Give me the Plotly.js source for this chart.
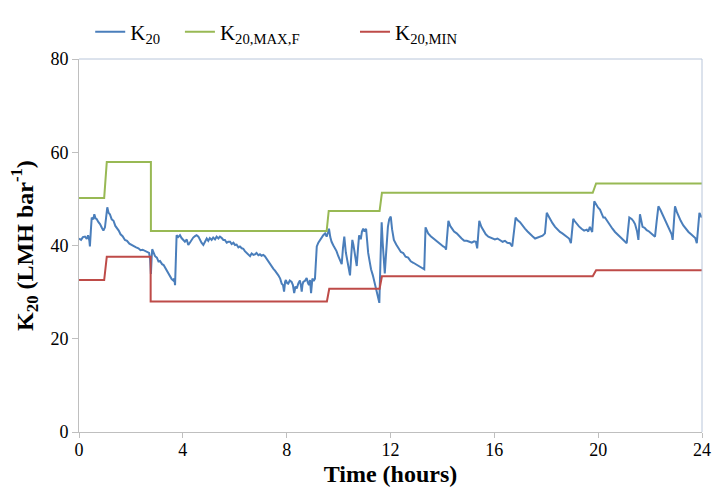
<!DOCTYPE html>
<html>
<head>
<meta charset="utf-8">
<script src="https://cdn.plot.ly/plotly-3.0.1.min.js"></script>
<style>html,body{margin:0;padding:0;background:#fff;}#chart{width:714px;height:497px;}</style>
</head>
<body>
<div id="chart"></div>
<script>
// Measured K20 (hours, LMH bar^-1)
var k20Hours = [
  0.00,0.08,0.15,0.23,0.30,0.35,0.40,0.42,0.46,0.49,0.55,0.59,0.64,0.68,0.75,0.81,0.88,0.94,1.00,
  1.05,1.09,1.14,1.19,1.26,1.33,1.40,1.46,1.53,1.60,1.68,1.77,1.85,1.94,2.03,2.11,2.20,2.29,2.37,2.45,2.54,2.62,2.70,
  2.74,2.77,2.80,2.82,2.87,2.93,3.00,3.06,3.12,3.20,3.26,3.31,3.38,3.44,3.50,3.57,3.63,3.67,3.70,3.73,3.76,
  3.82,3.89,3.95,4.02,4.08,4.15,4.21,4.27,4.34,4.40,4.47,4.53,4.60,4.66,4.72,4.79,4.85,4.92,4.98,5.04,5.11,5.17,5.24,5.30,5.37,5.43,5.50,5.56,5.62,5.69,5.75,5.82,5.88,5.95,6.01,6.07,6.14,6.20,6.27,6.33,6.39,6.46,6.52,6.59,6.65,6.72,6.78,6.84,6.91,6.97,7.03,7.10,7.16,7.23,7.29,7.36,7.42,7.49,7.55,7.62,7.68,7.75,7.81,7.86,7.90,7.94,
  7.97,8.02,8.06,8.12,8.19,8.24,8.29,8.34,8.39,8.45,8.51,8.55,8.58,8.61,8.64,8.70,8.77,8.82,8.86,8.90,8.94,8.99,9.04,9.09,
  9.12,9.16,9.22,9.28,9.35,9.41,9.48,9.54,9.59,9.63,9.68,9.73,9.80,9.86,9.92,9.99,10.06,10.12,10.17,10.22,10.28,10.35,10.40,10.44,10.49,10.53,10.57,10.61,10.66,10.70,10.75,10.79,10.83,10.86,10.90,10.95,11.00,11.06,11.10,11.14,11.20,11.25,11.32,11.38,11.45,11.51,11.57,
  11.62,11.66,11.70,11.74,11.78,11.82,11.86,11.90,11.95,12.01,12.06,12.13,12.22,12.30,12.40,12.49,12.58,12.68,12.78,12.88,12.97,13.07,13.16,13.26,13.30,
  13.35,13.40,13.45,13.55,13.65,13.75,13.84,13.94,14.03,14.10,14.14,14.23,14.30,14.36,14.45,14.55,14.65,14.74,14.84,14.94,15.04,15.13,15.22,15.29,15.34,15.42,15.50,15.57,15.67,15.77,15.90,16.02,16.12,16.22,16.32,16.41,16.50,16.60,16.65,16.69,
  16.82,16.90,16.99,17.08,17.18,17.28,17.37,17.47,17.57,17.66,17.76,17.86,17.95,18.02,18.08,18.14,18.24,18.34,18.44,18.53,18.62,18.72,18.80,18.88,18.95,19.04,19.10,19.17,19.26,19.36,19.46,19.56,19.62,19.68,19.74,19.77,
  19.85,19.92,20.00,20.07,20.13,20.20,20.26,20.35,20.45,20.55,20.65,20.75,20.84,20.90,20.97,21.04,21.10,21.20,21.29,21.36,21.42,21.50,21.55,21.61,21.71,21.79,21.87,21.96,22.06,22.13,22.19,22.25,22.32,22.40,22.45,22.51,22.57,22.67,22.77,22.83,22.87,22.96,23.03,23.09,23.18,23.28,23.38,23.48,23.58,23.67,23.74,23.80,23.90,23.99
];
var k20Values = [
  41.5,41.2,41.8,41.9,41.4,42.2,41.0,39.8,43.5,46.0,45.6,46.7,45.8,45.7,45.0,44.6,43.8,43.2,43.9,
  46.5,48.2,47.0,46.7,45.6,45.3,44.2,43.8,43.2,42.4,42.0,41.2,41.0,40.4,40.1,39.8,39.6,39.4,39.0,39.1,38.8,38.6,38.4,
  37.0,33.9,37.5,39.2,38.5,37.7,37.4,36.6,36.7,36.0,35.8,35.3,34.6,34.2,33.6,32.8,32.5,32.9,31.5,37.0,42.2,
  41.8,42.2,41.6,41.2,40.8,41.3,40.1,40.6,41.2,41.7,42.0,42.2,41.9,41.2,40.6,40.1,40.9,41.5,41.0,41.6,41.2,41.7,41.3,41.9,41.5,41.9,41.6,41.2,41.2,40.6,40.8,40.8,40.3,40.6,40.1,40.2,39.6,39.8,39.4,39.3,38.8,38.4,38.2,37.7,38.3,38.0,38.1,38.4,37.9,38.1,37.8,38.0,37.7,37.1,36.6,36.0,35.4,35.0,34.6,34.1,33.6,32.9,31.8,31.5,30.1,32.2,
  32.6,31.9,31.8,32.5,32.2,31.5,29.8,31.2,30.8,31.9,32.5,31.4,30.1,31.6,32.2,32.4,33.0,32.0,31.5,32.6,29.8,32.9,32.4,32.9,
  36.0,39.8,40.6,41.2,41.8,42.2,42.6,41.9,42.8,43.6,41.8,40.8,40.0,39.4,38.8,37.7,36.8,36.0,39.5,41.9,38.5,36.3,35.0,33.6,38.0,41.2,40.2,38.4,36.8,35.6,39.5,42.2,41.5,41.5,43.0,43.6,43.0,43.6,41.0,38.4,36.5,34.9,33.6,32.2,30.8,29.4,27.7,
  38.0,45.0,40.5,36.5,34.0,37.5,41.5,44.0,45.6,46.2,43.5,41.2,40.2,39.4,38.6,38.4,37.6,37.4,36.6,36.3,36.0,35.8,35.4,35.1,34.9,
  43.9,43.2,42.6,42.0,41.5,41.0,40.5,40.2,39.8,39.6,39.1,45.3,44.2,43.6,43.0,42.6,41.9,41.5,41.0,41.0,40.8,40.6,40.9,40.8,39.4,45.3,44.0,43.3,42.4,41.9,41.6,41.3,41.5,41.2,40.8,41.0,40.6,40.5,40.1,39.8,
  46.0,45.4,45.0,44.2,43.6,43.0,42.6,42.0,41.5,41.7,41.9,42.1,42.6,47.0,46.4,45.7,44.8,44.0,43.4,42.9,42.6,42.2,42.0,41.5,40.5,45.7,45.2,44.6,44.1,43.6,43.2,43.4,43.0,44.0,43.4,42.9,
  49.5,48.8,48.1,47.7,46.9,46.0,46.0,45.2,44.3,43.6,42.9,42.4,41.9,41.6,41.2,41.0,40.5,46.0,45.7,45.2,44.6,43.0,41.2,46.7,44.0,43.8,43.3,43.0,42.6,42.2,41.9,45.0,48.4,47.6,47.0,46.3,45.7,44.6,43.3,42.4,41.2,48.4,47.2,46.3,45.3,44.3,43.5,42.9,42.4,41.9,41.6,40.5,47.0,46.0
];
// Upper limit K20,MAX,F (step profile)
var maxHours  = [0, 0.97, 1.07, 2.77, 2.77, 9.54, 9.62, 11.58, 11.67, 19.79, 19.92, 24];
var maxValues = [50.2, 50.2, 57.9, 57.9, 43.1, 43.1, 47.4, 47.4, 51.3, 51.3, 53.3, 53.3];
// Lower limit K20,MIN (step profile)
var minHours  = [0, 0.97, 1.07, 2.76, 2.76, 9.55, 9.64, 11.58, 11.67, 19.79, 19.92, 24];
var minValues = [32.6, 32.6, 37.6, 37.6, 28.0, 28.0, 30.7, 30.7, 33.4, 33.4, 34.7, 34.7];

var seriesNames = ['K<sub>20</sub>', 'K<sub>20,MAX,F</sub>', 'K<sub>20,MIN</sub>'];
var xTicks = [0, 4, 8, 12, 16, 20, 24];
var yTicks = [0, 20, 40, 60, 80];

var serif = 'Liberation Serif, Times New Roman, serif';

var traces = [
  {x: k20Hours, y: k20Values, type: 'scatter', mode: 'lines', name: seriesNames[0],
   line: {color: '#4a7ebb', width: 2}, legend: 'legend'},
  {x: maxHours, y: maxValues, type: 'scatter', mode: 'lines', name: seriesNames[1],
   line: {color: '#98b954', width: 2}, legend: 'legend2'},
  {x: minHours, y: minValues, type: 'scatter', mode: 'lines', name: seriesNames[2],
   line: {color: '#be4b48', width: 2}, legend: 'legend3'}
];

var legendBase = {orientation: 'h', yanchor: 'middle', xanchor: 'left', y: 1.072,
  bgcolor: 'rgba(0,0,0,0)', font: {family: serif, size: 21, color: '#000'}};

var layout = {
  width: 714, height: 497,
  margin: {l: 79, r: 12, t: 46, b: 65},
  paper_bgcolor: '#fff', plot_bgcolor: '#fff',
  font: {family: serif, size: 18, color: '#000'},
  showlegend: true,
  legend: Object.assign({}, legendBase, {x: 0.018}),
  legend2: Object.assign({}, legendBase, {x: 0.162}),
  legend3: Object.assign({}, legendBase, {x: 0.443}),
  xaxis: {
    range: [0, 24], tickvals: xTicks, ticktext: xTicks.map(String),
    showgrid: false, zeroline: false, showline: true, linecolor: '#bfbfbf', linewidth: 1,
    ticks: 'outside', ticklen: 5, tickcolor: '#bfbfbf', ticklabelstandoff: -4,
    tickfont: {family: serif, size: 18, color: '#000'},
    title: {text: '<b>Time (hours)</b>', font: {family: serif, size: 24, color: '#000'}, standoff: 6}
  },
  yaxis: {
    range: [0, 80], tickvals: yTicks, ticktext: yTicks.map(String),
    showgrid: false, zeroline: false, showline: true, linecolor: '#bfbfbf', linewidth: 1,
    ticks: 'outside', ticklen: 6, tickcolor: '#bfbfbf',
    tickfont: {family: serif, size: 18, color: '#000'},
    title: {text: '<b>K<sub>20</sub> (LMH bar<sup>-1</sup>)</b>', font: {family: serif, size: 24, color: '#000'}, standoff: 10}
  },
  shapes: [
    {type: 'line', xref: 'paper', yref: 'paper', x0: 0, x1: 1, y0: 1, y1: 1, line: {color: '#b9c6da', width: 1}},
    {type: 'line', xref: 'paper', yref: 'paper', x0: 1, x1: 1, y0: 0, y1: 1, line: {color: '#b9c6da', width: 1}}
  ]
};

Plotly.newPlot('chart', traces, layout, {displayModeBar: false, staticPlot: true});
</script>
</body>
</html>
